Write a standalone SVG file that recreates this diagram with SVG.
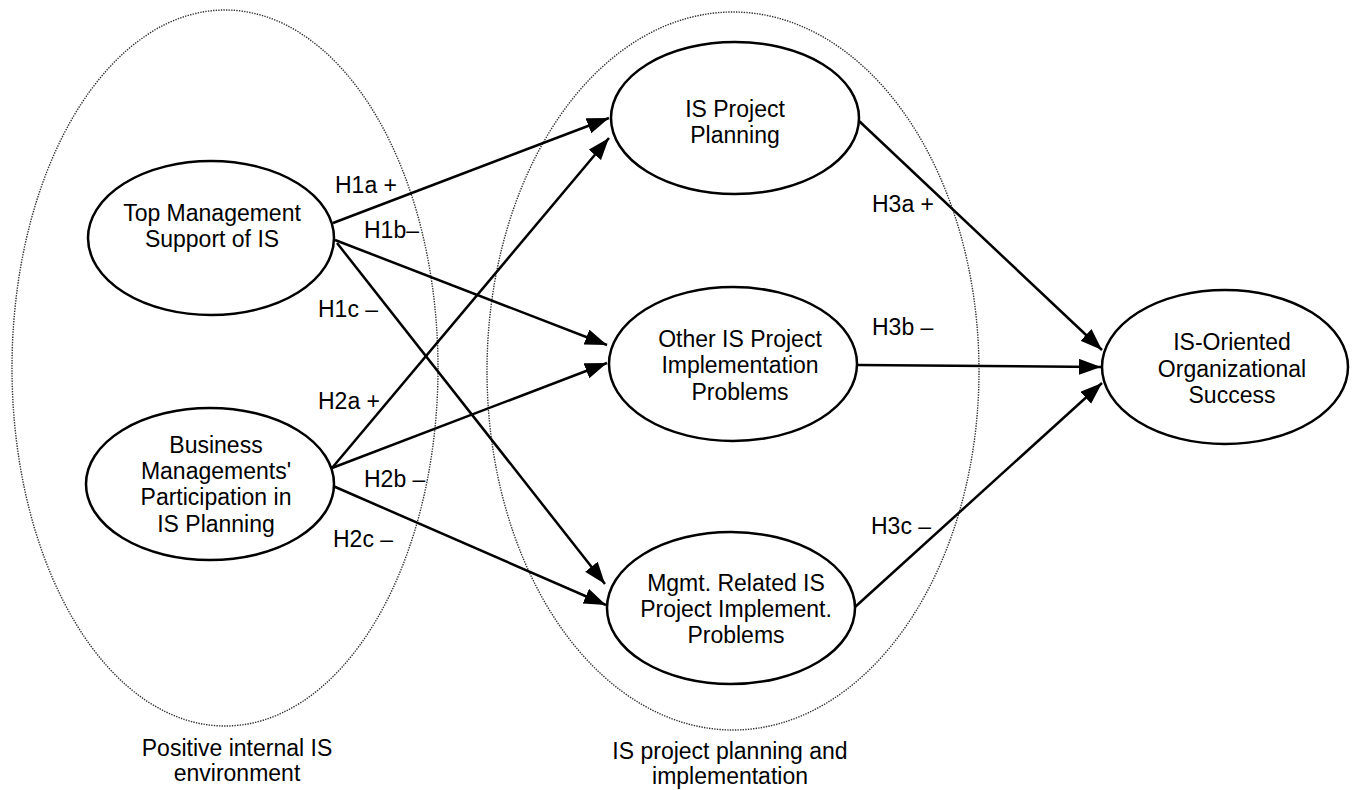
<svg xmlns="http://www.w3.org/2000/svg" width="1357" height="790" viewBox="0 0 1357 790">
<style>
.node{fill:#fff;stroke:#000;stroke-width:2.5}
.region{fill:none;stroke:#333;stroke-width:1.4;stroke-dasharray:1.4 1.2}
text{font-family:"Liberation Sans",Arial,sans-serif;font-size:23px;fill:#000}
.c{text-anchor:middle}
.edge{stroke:#000;stroke-width:2.5;fill:none;marker-end:url(#ah)}
</style>
<defs>
<marker id="ah" markerUnits="userSpaceOnUse" markerWidth="24" markerHeight="18" refX="22" refY="8" orient="auto">
<path d="M0,0 L22,8 L0,16 z" fill="#000"/>
</marker>
</defs>
<g id="regions">
<ellipse class="region" cx="225" cy="368" rx="213" ry="358"/>
<ellipse class="region" cx="733" cy="371" rx="246" ry="359"/>
<text class="c" x="237" y="756">Positive internal IS</text>
<text class="c" x="237" y="781">environment</text>
<text class="c" x="730" y="759">IS project planning and</text>
<text class="c" x="730" y="784">implementation</text>
</g>
<g id="connectors">
<line class="edge" x1="333" y1="223" x2="609" y2="118"/>
<line class="edge" x1="335" y1="240" x2="607" y2="345"/>
<line class="edge" x1="337" y1="243" x2="605" y2="584"/>
<line class="edge" x1="332" y1="468" x2="609" y2="138"/>
<line class="edge" x1="332" y1="468" x2="607" y2="363"/>
<line class="edge" x1="333" y1="486" x2="606" y2="605"/>
<line class="edge" x1="858" y1="120" x2="1102" y2="350"/>
<line class="edge" x1="858" y1="365" x2="1101" y2="367"/>
<line class="edge" x1="855" y1="607" x2="1102" y2="383"/>
<text x="335" y="193">H1a +</text>
<text x="364" y="238">H1b–</text>
<text x="318" y="317">H1c –</text>
<text x="318" y="409">H2a +</text>
<text x="364" y="487">H2b –</text>
<text x="333" y="547">H2c –</text>
<text x="872" y="212">H3a +</text>
<text x="872" y="335">H3b –</text>
<text x="871" y="534">H3c –</text>
</g>
<g id="top-mgmt">
<ellipse class="node" cx="211" cy="238" rx="123" ry="77"/>
<text class="c" x="212" y="221">Top Management</text>
<text class="c" x="212" y="247">Support of IS</text>
</g>
<g id="business-mgmt">
<ellipse class="node" cx="210" cy="484" rx="124" ry="76"/>
<text class="c" x="216" y="453">Business</text>
<text class="c" x="216" y="479">Managements'</text>
<text class="c" x="216" y="505">Participation in</text>
<text class="c" x="216" y="532">IS Planning</text>
</g>
<g id="is-project-planning">
<ellipse class="node" cx="735" cy="118" rx="124" ry="76"/>
<text class="c" x="735" y="117">IS Project</text>
<text class="c" x="735" y="143">Planning</text>
</g>
<g id="other-problems">
<ellipse class="node" cx="733" cy="364" rx="124" ry="77"/>
<text class="c" x="740" y="347">Other IS Project</text>
<text class="c" x="740" y="373">Implementation</text>
<text class="c" x="740" y="400">Problems</text>
</g>
<g id="mgmt-problems">
<ellipse class="node" cx="731" cy="608" rx="124" ry="76"/>
<text class="c" x="736" y="591">Mgmt. Related IS</text>
<text class="c" x="736" y="617">Project Implement.</text>
<text class="c" x="736" y="643">Problems</text>
</g>
<g id="org-success">
<ellipse class="node" cx="1225" cy="367" rx="123" ry="77"/>
<text class="c" x="1232" y="350">IS-Oriented</text>
<text class="c" x="1232" y="377">Organizational</text>
<text class="c" x="1232" y="403">Success</text>
</g>
</svg>
